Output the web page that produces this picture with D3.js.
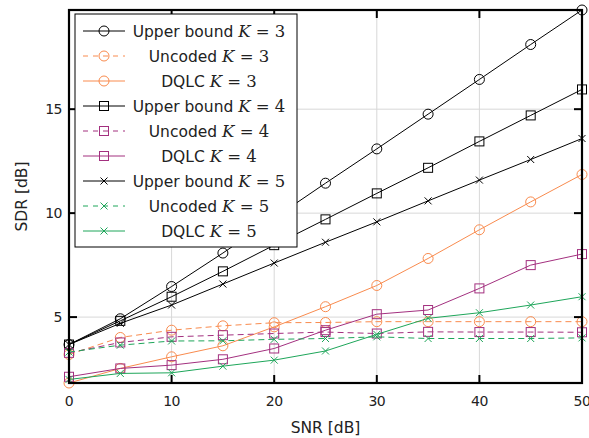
<!DOCTYPE html>
<html>
<head>
<meta charset="utf-8">
<script src="https://cdn.jsdelivr.net/npm/d3@7"></script>
<style>
  body { margin: 0; background: #fff; }
  text { font-family: "DejaVu Sans", sans-serif; }
</style>
</head>
<body>
<div id="chart"></div>
<script>
// SNR values (x axis)
var snr = [0, 5, 10, 15, 20, 25, 30, 35, 40, 45, 50];

// SDR values per series
var upper3 = [3.68, 4.92, 6.47, 8.08, 9.76, 11.44, 13.09, 14.76, 16.43, 18.11, 19.77];
var uncoded3 = [3.2, 4.02, 4.37, 4.58, 4.73, 4.74, 4.78, 4.78, 4.78, 4.78, 4.78];
var dqlc3 = [1.83, 2.53, 3.09, 3.62, 4.53, 5.5, 6.52, 7.82, 9.2, 10.54, 11.86];
var upper4 = [3.68, 4.82, 5.98, 7.2, 8.46, 9.7, 10.95, 12.18, 13.45, 14.7, 15.95];
var uncoded4 = [3.28, 3.78, 4.05, 4.13, 4.21, 4.28, 4.21, 4.29, 4.28, 4.28, 4.27];
var dqlc4 = [2.13, 2.53, 2.69, 2.97, 3.49, 4.37, 5.14, 5.34, 6.38, 7.5, 8.03];
var upper5 = [3.68, 4.7, 5.58, 6.59, 7.6, 8.6, 9.58, 10.59, 11.59, 12.58, 13.59];
var uncoded5 = [3.32, 3.65, 3.85, 3.86, 3.93, 3.97, 4.05, 3.97, 3.97, 3.97, 4.0];
var dqlc5 = [2.0, 2.29, 2.32, 2.64, 2.93, 3.37, 4.17, 4.94, 5.21, 5.58, 5.98];

var xTicks = [0, 10, 20, 30, 40, 50];
var yTicks = [5, 10, 15];

function init() {
    var w = 589, h = 438;
    var margin = { top: 10, right: 7, bottom: 55, left: 69 };
    var width = w - margin.left - margin.right;
    var height = h - margin.top - margin.bottom;

    var orange = "#f98b4e", magenta = "#a3307f", green = "#1ea65a";

    var series = [
        { name: "Upper bound", k: 3, values: upper3, color: "#000", dash: null, marker: "circle" },
        { name: "Uncoded", k: 3, values: uncoded3, color: orange, dash: "6,4", marker: "circle" },
        { name: "DQLC", k: 3, values: dqlc3, color: orange, dash: null, marker: "circle" },
        { name: "Upper bound", k: 4, values: upper4, color: "#000", dash: null, marker: "square" },
        { name: "Uncoded", k: 4, values: uncoded4, color: magenta, dash: "6,4", marker: "square" },
        { name: "DQLC", k: 4, values: dqlc4, color: magenta, dash: null, marker: "square" },
        { name: "Upper bound", k: 5, values: upper5, color: "#000", dash: null, marker: "cross" },
        { name: "Uncoded", k: 5, values: uncoded5, color: green, dash: "6,4", marker: "cross" },
        { name: "DQLC", k: 5, values: dqlc5, color: green, dash: null, marker: "cross" }
    ];

    var svg = d3.select("#chart").append("svg")
        .attr("width", w)
        .attr("height", h);

    var g = svg.append("g")
        .attr("transform", "translate(" + margin.left + "," + margin.top + ")");

    var x = d3.scaleLinear().domain([0, 50]).range([0, width]);
    var y = d3.scaleLinear().domain([1.83, 19.77]).range([height, 0]);

    // grid
    g.append("g").selectAll("line")
        .data(xTicks.slice(1, -1))
        .enter().append("line")
        .attr("x1", function (d) { return x(d); })
        .attr("x2", function (d) { return x(d); })
        .attr("y1", 0).attr("y2", height)
        .attr("stroke", "#d8d8d8").attr("stroke-width", 1);
    g.append("g").selectAll("line")
        .data(yTicks)
        .enter().append("line")
        .attr("y1", function (d) { return y(d); })
        .attr("y2", function (d) { return y(d); })
        .attr("x1", 0).attr("x2", width)
        .attr("stroke", "#d8d8d8").attr("stroke-width", 1);

    // marker drawing helper
    function drawMarker(sel, type, color) {
        if (type === "circle") {
            sel.append("circle").attr("r", 5)
                .attr("fill", "none").attr("stroke", color).attr("stroke-width", 1);
        } else if (type === "square") {
            sel.append("rect").attr("x", -4.5).attr("y", -4.5)
                .attr("width", 9).attr("height", 9)
                .attr("fill", "none").attr("stroke", color).attr("stroke-width", 1);
        } else {
            sel.append("path").attr("d", "M-3.5,-3.5L3.5,3.5M-3.5,3.5L3.5,-3.5")
                .attr("fill", "none").attr("stroke", color).attr("stroke-width", 1);
        }
    }

    var line = d3.line()
        .x(function (d, i) { return x(snr[i]); })
        .y(function (d) { return y(d); });

    var plot = g.append("g");
    series.forEach(function (s) {
        var sg = plot.append("g");
        sg.append("path")
            .attr("d", line(s.values))
            .attr("fill", "none")
            .attr("stroke", s.color)
            .attr("stroke-width", 1)
            .attr("stroke-dasharray", s.dash);
        sg.selectAll("g.m")
            .data(s.values)
            .enter().append("g")
            .attr("class", "m")
            .attr("transform", function (d, i) { return "translate(" + x(snr[i]) + "," + y(d) + ")"; })
            .each(function () { drawMarker(d3.select(this), s.marker, s.color); });
    });

    // frame
    g.append("rect")
        .attr("width", width).attr("height", height)
        .attr("fill", "none").attr("stroke", "#000").attr("stroke-width", 2.2);

    // ticks (inward, on all four sides)
    var tickLen = 8;
    xTicks.forEach(function (t) {
        g.append("line").attr("x1", x(t)).attr("x2", x(t))
            .attr("y1", height).attr("y2", height - tickLen)
            .attr("stroke", "#000").attr("stroke-width", 2);
        g.append("line").attr("x1", x(t)).attr("x2", x(t))
            .attr("y1", 0).attr("y2", tickLen)
            .attr("stroke", "#000").attr("stroke-width", 2);
        g.append("text").attr("x", x(t)).attr("y", height + 23)
            .attr("text-anchor", "middle").attr("font-size", 14)
            .attr("letter-spacing", -0.5)
            .attr("fill", "#222").text(t);
    });
    yTicks.forEach(function (t) {
        g.append("line").attr("x1", 0).attr("x2", tickLen)
            .attr("y1", y(t)).attr("y2", y(t))
            .attr("stroke", "#000").attr("stroke-width", 2);
        g.append("line").attr("x1", width).attr("x2", width - tickLen)
            .attr("y1", y(t)).attr("y2", y(t))
            .attr("stroke", "#000").attr("stroke-width", 2);
        g.append("text").attr("x", -7).attr("y", y(t) + 5)
            .attr("text-anchor", "end").attr("font-size", 14)
            .attr("letter-spacing", -0.5)
            .attr("fill", "#222").text(t);
    });

    // axis labels
    g.append("text")
        .attr("x", width / 2).attr("y", height + 50)
        .attr("text-anchor", "middle").attr("font-size", 15.5)
        .attr("fill", "#222").text("SNR [dB]");
    g.append("text")
        .attr("transform", "rotate(-90)")
        .attr("x", -height / 2).attr("y", -42)
        .attr("text-anchor", "middle").attr("font-size", 15.5)
        .attr("fill", "#222").text("SDR [dB]");

    // legend
    var lx = 6, ly = 4, lw = 222, lh = 233;
    var legend = g.append("g").attr("transform", "translate(" + lx + "," + ly + ")");
    legend.append("rect")
        .attr("width", lw).attr("height", lh)
        .attr("fill", "#fff").attr("stroke", "#000").attr("stroke-width", 1);

    series.forEach(function (s, i) {
        var row = legend.append("g").attr("transform", "translate(0," + (17 + i * 25) + ")");
        row.append("line").attr("x1", 8).attr("x2", 50)
            .attr("stroke", s.color).attr("stroke-width", 1)
            .attr("stroke-dasharray", s.dash ? "5,5" : null);
        var mk = row.append("g").attr("transform", "translate(29,0)");
        drawMarker(mk, s.marker, s.color);
        var txt = row.append("text")
            .attr("x", 134).attr("y", 5.5)
            .attr("text-anchor", "middle").attr("font-size", 15.5)
            .attr("fill", "#222");
        txt.append("tspan").text(s.name + " ");
        txt.append("tspan")
            .style("font-family", "'DejaVu Serif', serif")
            .style("font-style", "italic").attr("font-size", 16.5).text("K");
        txt.append("tspan")
            .style("font-family", "'DejaVu Serif', serif")
            .attr("font-size", 16.5).text(" = " + s.k);
    });
}
window.onload = init;
</script>
</body>
</html>
